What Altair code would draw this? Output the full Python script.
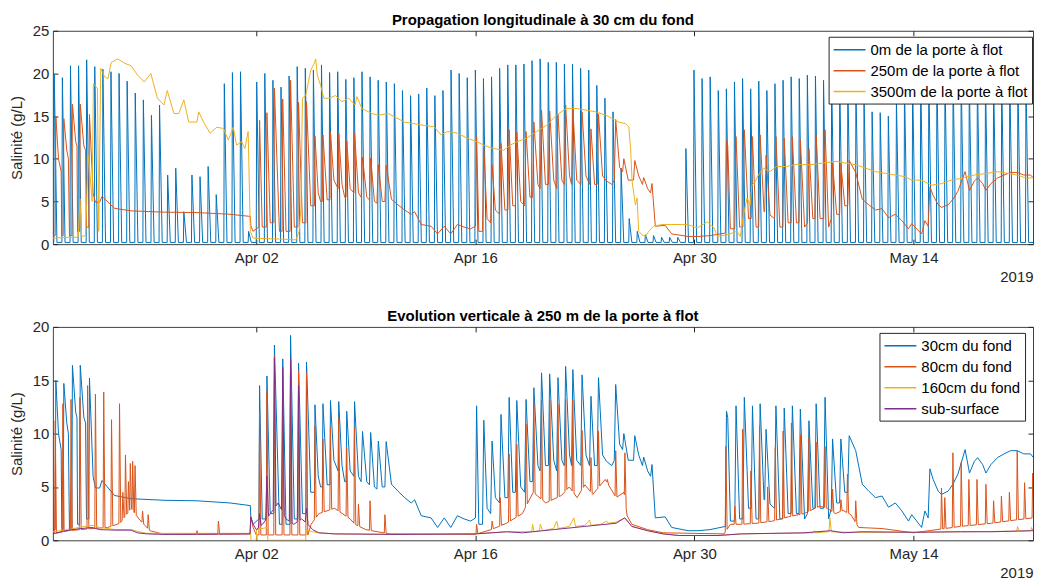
import altair as alt
import numpy as np
import pandas as pd

# ---------------- axes / labels ----------------
DAY_END = 62.64          # x runs in days after 20 Mar 2019 00:00
TICK_DAYS = [13, 27, 41, 55]
TICK_LABELS = ["Apr 02", "Apr 16", "Apr 30", "May 14"]
YEAR_LABEL = "2019"
TOP_TITLE = "Propagation longitudinale à 30 cm du fond"
BOT_TITLE = "Evolution verticale à 250 m de la porte à flot"
Y_TITLE = "Salinité (g/L)"
TOP_NAMES = ["0m de la porte à flot", "250m de la porte à flot", "3500m de la porte à flot"]
BOT_NAMES = ["30cm du fond", "80cm du fond", "160cm du fond", "sub-surface"]
COLORS = ["#0072BD", "#D95319", "#EDB120", "#7E2F8E"]
TOP_Y_TICKS = [0, 5, 10, 15, 20, 25]
BOT_Y_TICKS = [0, 5, 10, 15, 20]

# ---------------- 0 m : one salinity peak per tide ----------------
TIDE_FIRST_DAY = 0.09
TIDE_PERIOD = 0.5175
GATE_LOW = 0.2
GATE_PEAKS = [
    19.9, 19.5, 20.9, 20.9, 21.6, 20.8, 20.5, 20.2, 20.0, 19.1,
    17.7, 16.9, 15.1, 16.3, 8.1, 8.9, 3.8, 8.1, 7.9, 9.1,
    5.8, 18.8, 20.1, 20.2, 1.5, 19.0, 20.0, 19.2, 18.4, 19.7,
    20.8, 20.6, 20.4, 21.0, 20.1, 20.2, 19.3, 19.5, 20.2, 19.6,
    19.2, 19.0, 18.8, 18.0, 17.4, 17.6, 18.3, 17.4, 18.0, 20.4,
    20.0, 19.5, 20.4, 19.4, 19.6, 20.6, 21.0, 21.0, 21.1, 21.5,
    21.7, 21.3, 21.3, 21.1, 21.1, 20.6, 20.4, 18.6, 17.1, 15.5,
    8.9, 3.0, 1.5, 1.1, 1.0, 0.8, 0.8, 0.8, 11.2, 20.4,
    19.4, 19.6, 18.0, 18.2, 19.0, 19.4, 18.2, 19.1, 18.0, 18.8,
    19.2, 19.6, 19.4, 19.8, 19.7, 19.2, 19.5, 19.0, 18.8, 18.5,
    17.5, 15.5, 15.4, 15.0, 17.0, 18.5, 19.0, 19.5, 19.5, 19.8,
    19.5, 19.8, 19.6, 19.5, 19.7, 19.4, 19.6, 19.5, 19.7, 19.2,
    19.2, 19.4,
]

# ---------------- 250 m, 30 cm above bed (both panels) ----------------
S250 = [
    (0.00, 1.0), (0.15, 1.0), (0.19, 15.0), (0.36, 10.0), (0.53, 8.5), (0.57, 1.0), (0.66, 1.0),
    (0.70, 14.7), (0.89, 11.0), (0.99, 10.0), (1.06, 1.0), (1.21, 1.0), (1.25, 16.4), (1.46, 12.0),
    (1.54, 11.5), (1.58, 1.5), (1.71, 1.5), (1.75, 16.4), (1.98, 11.5), (2.09, 11.0), (2.15, 2.0),
    (2.30, 2.0), (2.34, 15.2), (2.57, 6.0), (2.72, 4.9), (2.99, 4.9), (3.14, 5.6), (3.94, 4.2),
    (5.00, 3.9), (7.10, 3.75), (9.21, 3.7), (11.32, 3.5), (12.62, 3.25), (12.65, 2.2), (12.79, 1.5),
    (13.17, 2.0), (13.21, 14.5), (13.38, 2.0), (13.64, 2.0), (13.68, 15.4), (13.89, 2.5), (14.12, 2.5),
    (14.16, 18.3), (14.48, 1.5), (14.65, 1.5), (14.69, 17.0), (14.90, 1.5), (15.16, 1.5), (15.19, 19.2),
    (15.43, 2.0), (15.66, 2.0), (15.70, 16.6), (15.95, 2.5), (16.17, 2.5), (16.21, 16.7), (16.48, 4.5),
    (16.72, 4.5), (16.75, 12.7), (16.96, 6.0), (17.11, 5.0), (17.22, 5.0), (17.26, 12.8), (17.53, 5.2),
    (17.71, 5.2), (17.74, 13.1), (17.96, 7.5), (18.23, 6.5), (18.27, 13.0), (18.48, 7.0), (18.65, 5.5),
    (18.74, 5.5), (18.78, 12.1), (19.00, 6.5), (19.24, 6.0), (19.28, 13.0), (19.53, 6.0), (19.70, 5.5),
    (19.79, 10.2), (20.06, 5.5), (20.23, 5.2), (20.31, 10.1), (20.55, 5.0), (20.71, 4.8), (20.80, 9.3),
    (21.05, 5.0), (21.22, 5.0), (21.30, 9.25), (21.64, 5.25), (22.06, 4.6), (22.48, 4.0), (22.90, 3.5),
    (23.12, 3.8), (23.54, 2.3), (24.17, 2.1), (24.59, 1.2), (25.01, 2.1), (25.43, 1.2), (25.85, 2.3),
    (26.28, 2.0), (26.70, 1.8), (27.01, 2.1), (27.08, 12.6), (27.22, 1.5), (27.46, 1.5), (27.54, 11.25),
    (27.75, 3.0), (27.98, 2.5), (28.07, 9.3), (28.28, 4.0), (28.55, 3.5), (28.64, 11.8), (28.89, 4.0),
    (29.08, 4.0), (29.16, 13.4), (29.39, 4.5), (29.56, 4.5), (29.65, 13.1), (29.90, 5.0), (30.15, 4.5),
    (30.24, 13.2), (30.49, 5.5), (30.66, 5.5), (30.74, 14.3), (31.00, 7.0), (31.14, 6.5), (31.23, 15.7),
    (31.48, 7.0), (31.67, 7.0), (31.75, 15.6), (32.01, 7.5), (32.20, 6.5), (32.28, 15.25), (32.53, 7.5),
    (32.68, 7.0), (32.77, 16.3), (33.02, 8.0), (33.15, 7.0), (33.23, 16.0), (33.48, 7.5), (33.74, 7.0),
    (33.82, 15.5), (34.07, 8.0), (34.30, 7.0), (34.39, 13.5), (34.62, 7.0), (34.79, 7.0), (34.87, 15.25),
    (35.13, 8.0), (35.38, 7.4), (35.72, 7.0), (35.88, 7.5), (35.97, 14.6), (36.22, 9.0), (36.41, 8.5),
    (36.49, 10.0), (36.77, 7.5), (37.11, 7.5), (37.19, 9.8), (37.44, 8.0), (37.68, 7.0), (37.76, 7.8),
    (38.01, 6.5), (38.20, 6.0), (38.29, 7.1), (38.50, 2.1), (39.13, 2.2), (39.55, 1.2), (40.60, 0.9),
    (41.24, 0.9), (42.00, 1.0), (42.98, 1.3), (43.05, 12.1), (43.13, 11.5), (43.30, 1.8), (43.58, 1.8),
    (43.66, 12.6), (43.89, 2.0), (44.10, 2.0), (44.19, 13.4), (44.46, 3.0), (44.63, 3.0), (44.71, 12.6),
    (44.94, 2.0), (45.11, 2.0), (45.20, 12.8), (45.45, 3.8), (45.49, 3.8), (45.58, 10.4), (45.83, 3.4),
    (46.12, 3.0), (46.21, 12.6), (46.46, 2.0), (46.65, 2.0), (46.74, 12.4), (46.99, 2.5), (47.18, 2.5),
    (47.26, 12.6), (47.52, 2.5), (47.68, 2.5), (47.77, 12.3), (48.04, 2.0), (48.23, 2.5), (48.32, 11.2),
    (48.57, 3.0), (48.70, 3.0), (48.78, 12.8), (49.03, 3.0), (49.26, 3.0), (49.35, 13.4), (49.58, 2.0),
    (49.75, 3.0), (49.83, 9.5), (50.09, 3.5), (50.28, 3.5), (50.36, 9.5), (50.61, 4.5), (50.80, 4.5),
    (50.89, 9.8), (51.31, 8.4), (51.73, 5.25), (52.15, 4.6), (52.57, 4.0), (52.99, 4.15), (53.41, 3.1),
    (53.84, 3.5), (54.26, 2.75), (54.68, 1.8), (54.89, 2.4), (55.52, 1.2), (55.73, 2.75), (55.94, 2.1),
    (56.05, 6.7), (56.26, 5.7), (56.58, 4.6), (56.79, 4.3), (57.21, 4.6), (57.52, 5.25), (57.84, 6.2),
    (58.30, 8.5), (58.58, 6.3), (58.89, 7.4), (59.10, 7.75), (59.42, 7.1), (59.63, 6.3), (59.95, 7.1),
    (60.37, 7.75), (60.79, 8.1), (61.21, 8.4), (61.63, 8.4), (62.05, 8.1), (62.48, 8.1), (62.64, 7.8),
]

# ---------------- 3500 m ----------------
S3500 = [
    (0.00, 0.7), (0.78, 0.8), (1.62, 0.8), (1.73, 5.3), (1.84, 0.9), (2.09, 1.0), (2.26, 10.4),
    (2.36, 8.5), (2.51, 5.0), (2.59, 18.8), (2.85, 18.2), (2.93, 1.5), (3.06, 20.6), (3.31, 19.6),
    (3.52, 19.4), (3.73, 21.3), (4.15, 21.7), (4.58, 21.2), (5.00, 20.9), (5.42, 19.8), (5.84, 19.0),
    (6.26, 20.0), (6.68, 17.1), (7.10, 16.3), (7.31, 18.0), (7.74, 15.3), (8.05, 15.3), (8.37, 16.9),
    (8.68, 14.3), (9.21, 14.3), (9.32, 15.5), (9.63, 14.3), (10.05, 13.0), (10.48, 13.7), (10.90, 13.55),
    (11.21, 12.2), (11.53, 13.7), (11.74, 11.6), (12.06, 12.0), (12.27, 11.2), (12.48, 13.2),
    (12.62, 1.5), (12.79, 0.7), (14.48, 0.6), (15.53, 0.5), (15.74, 1.5), (15.85, 4.2), (15.95, 17.1),
    (16.16, 17.4), (16.48, 20.4), (16.69, 21.1), (16.80, 21.7), (16.90, 19.8), (17.11, 18.6),
    (17.32, 17.1), (17.64, 17.1), (18.06, 17.4), (18.48, 16.7), (18.90, 17.1), (19.32, 16.3),
    (19.43, 17.3), (19.75, 15.9), (20.38, 15.3), (20.80, 15.1), (21.43, 15.3), (22.06, 14.7),
    (22.48, 14.3), (23.12, 14.1), (23.75, 13.9), (24.38, 13.75), (24.80, 12.8), (25.22, 13.2),
    (25.86, 13.0), (26.49, 12.4), (27.12, 12.0), (27.54, 11.6), (28.17, 11.2), (28.81, 11.0),
    (29.23, 11.6), (29.65, 12.0), (30.28, 12.4), (30.91, 13.2), (31.54, 13.9), (32.18, 15.1),
    (32.81, 15.9), (33.44, 15.9), (34.07, 15.7), (34.71, 15.5), (35.34, 15.1), (35.76, 14.7),
    (36.18, 14.3), (36.60, 14.1), (36.81, 13.75), (36.92, 11.2), (37.02, 7.3), (37.23, 4.6),
    (37.34, 5.4), (37.44, 1.5), (37.65, 1.1), (37.87, 0.9), (38.08, 1.5), (38.39, 2.1), (38.92, 2.3),
    (39.55, 2.3), (40.18, 2.3), (40.56, 2.3), (41.19, 1.9), (41.83, 2.6), (42.25, 1.9), (42.46, 0.9),
    (43.09, 1.1), (43.72, 1.5), (43.93, 0.9), (44.14, 3.4), (44.36, 5.4), (44.57, 4.6), (44.67, 6.9),
    (44.88, 7.3), (45.09, 8.1), (45.41, 8.9), (45.83, 8.5), (46.25, 9.1), (46.88, 9.1), (47.52, 9.35),
    (48.36, 9.3), (49.20, 9.5), (50.04, 9.7), (50.68, 9.5), (51.31, 9.3), (51.94, 8.9), (52.57, 8.5),
    (53.20, 8.3), (53.84, 8.1), (54.47, 7.9), (54.89, 7.5), (55.52, 7.5), (56.15, 6.9), (56.79, 7.1),
    (57.42, 7.5), (58.05, 7.7), (58.89, 8.1), (59.74, 8.3), (60.37, 8.5), (61.00, 8.3), (61.63, 8.1),
    (62.27, 7.7), (62.64, 7.8),
]

# ---------------- 250 m, 80 cm above bed: spikes over a slow base ----------------
S80_SPIKE_DAY = [
    0.15, 0.64, 1.16, 1.73, 2.22, 2.72, 3.25, 3.75, 4.26, 4.47, 4.64, 4.83, 4.95, 5.10, 5.25,
    5.73, 6.09, 9.21, 10.58, 13.21, 13.68, 14.16, 14.69, 15.19, 15.70, 16.21, 16.75, 17.26, 17.74,
    18.27, 18.78, 19.28, 19.53, 20.27, 21.22, 27.08, 28.07, 28.59, 29.16, 29.65, 30.24, 30.74,
    31.23, 31.76, 32.28, 32.77, 33.23, 33.82, 34.39, 34.87, 35.44, 35.97, 36.56, 43.01, 43.58,
    44.08, 44.61, 45.16, 45.68, 46.17, 46.67, 47.20, 47.79, 48.32, 48.78, 49.35, 49.83, 50.36,
    50.78, 51.31, 56.79, 57.00, 57.52, 58.05, 58.54, 59.06, 59.63, 60.12, 60.62, 61.13, 61.63,
    62.10, 62.62,
]
S80_SPIKE_VAL = [
    11.2, 12.8, 13.2, 13.4, 14.5, 13.7, 13.9, 11.3, 12.8, 4.5, 8.0, 5.5, 7.2, 7.4, 7.0,
    2.75, 2.4, 0.9, 1.8, 12.1, 14.0, 17.3, 13.7, 17.0, 15.9, 15.7, 10.7, 9.5, 10.6,
    11.5, 8.7, 10.6, 3.4, 3.7, 2.4, 1.5, 1.8, 4.0, 8.1, 9.0, 10.9, 12.75,
    13.1, 13.1, 12.75, 13.2, 13.2, 10.3, 7.75, 10.25, 5.7, 8.4, 8.2, 8.8, 3.2,
    10.4, 6.5, 10.7, 5.0, 8.7, 10.25, 11.0, 9.9, 9.6, 9.2, 8.8, 4.8, 3.8,
    6.2, 3.7, 4.9, 4.0, 8.2, 7.3, 5.7, 5.7, 5.25, 3.7, 4.15, 4.5, 8.4,
    5.4, 6.3,
]
S80_BASE = [
    (0.0, 0.6), (1.0, 0.9), (2.5, 1.1), (3.5, 1.2), (4.3, 1.6), (5.0, 3.0), (5.5, 2.0), (6.2, 0.9),
    (7.0, 0.6), (9.0, 0.55), (12.6, 0.6), (12.65, 2.2), (12.8, 1.2), (13.0, 0.5), (16.3, 0.5),
    (16.5, 1.5), (17.0, 2.5), (18.0, 3.0), (19.0, 2.0), (19.3, 1.5), (20.0, 1.0), (21.5, 0.6),
    (27.0, 0.55), (28.0, 1.0), (29.0, 1.6), (30.0, 2.5), (30.7, 4.5), (31.5, 3.5), (32.5, 4.2),
    (33.0, 5.0), (33.5, 4.0), (34.0, 5.2), (34.5, 4.3), (35.3, 5.7), (36.0, 4.0), (36.5, 4.5),
    (36.7, 2.3), (37.0, 1.5), (38.0, 1.0), (39.0, 0.7), (42.9, 0.6), (43.3, 1.5), (44.0, 1.5),
    (45.0, 1.6), (46.0, 1.8), (47.0, 2.2), (48.0, 2.5), (49.0, 3.2), (49.5, 3.0), (50.0, 2.5),
    (50.5, 2.8), (51.0, 2.4), (51.5, 1.2), (53.0, 1.1), (55.0, 0.7), (56.5, 1.0), (58.0, 1.3),
    (60.0, 1.6), (61.5, 1.9), (62.64, 2.1),
]

# ---------------- 250 m, 160 cm above bed ----------------
S160 = [
    (0.0, 0.8), (1.0, 1.0), (2.0, 1.3), (2.5, 1.4), (3.0, 1.2), (4.0, 1.0), (5.0, 1.0), (5.5, 0.8),
    (6.0, 0.65), (12.64, 0.65), (12.66, 0.0), (13.0, 0.0), (13.02, 1.0), (13.70, 1.2), (13.74, 0.0),
    (16.16, 0.0), (16.18, 1.0), (16.6, 0.8), (17.0, 0.7), (18.0, 0.6), (22.0, 0.55), (27.0, 0.6),
    (29.0, 0.8), (30.6, 0.8), (30.66, 1.5), (30.75, 0.8), (31.1, 0.9), (31.15, 1.5), (31.3, 0.9),
    (32.0, 1.1), (32.2, 1.8), (32.3, 1.1), (33.0, 1.3), (33.3, 2.1), (33.4, 1.3), (34.0, 1.4),
    (34.3, 1.9), (34.4, 1.4), (35.0, 1.5), (35.4, 1.8), (35.5, 1.6), (36.0, 1.7), (36.55, 2.1),
    (37.0, 1.3), (38.0, 0.9), (39.0, 0.6), (40.0, 0.45), (42.5, 0.45), (44.0, 0.6), (48.6, 0.7),
    (48.68, 0.9), (48.75, 0.7), (49.6, 0.8), (49.66, 2.1), (49.75, 0.8), (51.0, 0.75), (55.0, 0.75),
    (58.0, 0.8), (61.6, 0.85), (61.65, 1.3), (61.75, 0.85), (62.5, 0.9), (62.55, 1.2), (62.64, 0.9),
]

# ---------------- 250 m, sub-surface ----------------
SUB_SPIKE_DAY = [13.21, 13.68, 14.16, 14.69, 15.19, 15.70, 16.21]
SUB_SPIKE_VAL = [2.5, 6.0, 17.1, 16.2, 17.0, 14.5, 3.0]
SUB_BASE = [
    (0.0, 0.6), (0.8, 0.9), (1.8, 1.1), (2.5, 1.2), (3.0, 1.0), (4.0, 0.95), (5.0, 0.95), (5.4, 0.7),
    (6.0, 0.6), (7.0, 0.55), (12.6, 0.6), (12.65, 2.2), (12.8, 1.5), (13.0, 1.0), (13.4, 1.5),
    (13.9, 2.5), (14.4, 3.5), (14.9, 2.0), (15.4, 1.5), (15.9, 2.0), (16.3, 1.5), (16.6, 1.0),
    (17.0, 0.7), (18.0, 0.6), (22.0, 0.55), (27.0, 0.6), (29.0, 0.8), (30.0, 0.7), (32.0, 1.0),
    (34.0, 1.3), (36.0, 1.6), (36.55, 2.1), (37.0, 1.3), (38.0, 0.9), (39.0, 0.6), (40.0, 0.45),
    (42.5, 0.45), (44.0, 0.6), (46.0, 0.65), (48.0, 0.7), (49.7, 0.9), (50.5, 0.7), (51.7, 0.8),
    (55.0, 0.75), (58.0, 0.8), (60.0, 0.8), (62.64, 0.9),
]


# ---------------- table building ----------------
def frame(points, name):
    pts = sorted(points)
    return pd.DataFrame({"day": [p[0] for p in pts], "val": [p[1] for p in pts], "series": name})


def tidal_points(first, period, peaks, low, rise=0.03, fall=0.17):
    pts = [(0.0, low)]
    for i, p in enumerate(peaks):
        t = first + i * period
        pts += [(t - rise, low), (t, p), (t + fall, low)]
    return pts


def spiky_points(days, vals, base, rise, fall):
    bt = np.array([b[0] for b in base])
    bv = np.array([b[1] for b in base])
    pts = [b for b in base if not any(d - rise <= b[0] <= d + fall for d in days)]
    for d, v in zip(days, vals):
        pts += [(d - rise, float(np.interp(d - rise, bt, bv))), (d, v),
                (d + fall, float(np.interp(d + fall, bt, bv)))]
    return pts


FONT = "Liberation Sans"
INK = "#262626"
PLOT_W = 983
PLOT_H = 214

x_main = alt.X(
    "day:Q",
    scale=alt.Scale(domain=[0, DAY_END], nice=False, zero=False),
    axis=alt.Axis(
        values=TICK_DAYS,
        labelExpr=" : ".join(f"datum.value == {d} ? '{l}'" for d, l in zip(TICK_DAYS, TICK_LABELS)) + " : ''",
        title=YEAR_LABEL, titleAnchor="end", titleAlign="right", titleX=PLOT_W, titlePadding=4,
        offset=-5, tickSize=5, labelPadding=6, domain=False, grid=False,
        labelFlush=False,
    ),
)


def y_main(ymax, ticks):
    return alt.Y(
        "val:Q",
        scale=alt.Scale(domain=[0, ymax], nice=False, zero=True),
        axis=alt.Axis(values=ticks, title=Y_TITLE, offset=-5, tickSize=5, labelPadding=4,
                      titlePadding=8, domain=False, grid=False),
    )


def panel(frames, names, ymax, yticks, title, legend_x, legend_y):
    color = alt.Color(
        "series:N",
        scale=alt.Scale(domain=names, range=COLORS[: len(names)]),
        legend=alt.Legend(
            title=None, orient="none", legendX=legend_x, legendY=legend_y,
            fillColor="white", strokeColor=INK, padding=4, rowPadding=4,
            symbolType="M-1,0L3,0", symbolSize=256, symbolStrokeWidth=1.5,
            labelFontSize=15, labelFont=FONT, labelColor="black", labelOffset=20,
        ),
    )
    y = y_main(ymax, yticks)
    lines = [
        alt.Chart(df).mark_line(strokeWidth=1, clip=True).encode(x=x_main, y=y, color=color)
        for df in frames
    ]
    inner = alt.layer(*lines)
    ticks = alt.Chart(frames[0]).mark_line(strokeOpacity=0).encode(
        x=alt.X("day:Q", axis=alt.Axis(orient="top", values=TICK_DAYS, labels=False, title=None,
                                        offset=-5, tickSize=5, domain=False, grid=False,
                                        minExtent=0, maxExtent=0)),
        y=alt.Y("val:Q", axis=alt.Axis(orient="right", values=yticks, labels=False, title=None,
                                        offset=-5, tickSize=5, domain=False, grid=False,
                                        minExtent=0, maxExtent=0)),
    )
    return (
        alt.layer(inner, ticks)
        .resolve_axis(x="independent", y="independent")
        .properties(width=PLOT_W, height=PLOT_H,
                    title=alt.Title(title, fontSize=15, font=FONT, fontWeight="bold",
                                    color="black", anchor="middle", offset=-4))
    )


gate = frame(tidal_points(TIDE_FIRST_DAY, TIDE_PERIOD, GATE_PEAKS, GATE_LOW), TOP_NAMES[0])
m250_top = frame(S250, TOP_NAMES[1])
m3500 = frame(S3500, TOP_NAMES[2])

m250_bot = frame(S250, BOT_NAMES[0])
m80 = frame(spiky_points(S80_SPIKE_DAY, S80_SPIKE_VAL, S80_BASE, 0.04, 0.08), BOT_NAMES[1])
m160 = frame(S160, BOT_NAMES[2])
msub = frame(spiky_points(SUB_SPIKE_DAY, SUB_SPIKE_VAL, SUB_BASE, 0.08, 0.10), BOT_NAMES[3])

top = panel([gate, m250_top, m3500], TOP_NAMES, 25, TOP_Y_TICKS, TOP_TITLE, 778, 6)
bottom = panel([m250_bot, m80, m160, msub], BOT_NAMES, 20, BOT_Y_TICKS, BOT_TITLE, 829, 6)

chart = (
    alt.vconcat(top, bottom, spacing=23)
    .resolve_scale(color="independent")
    .resolve_legend(color="independent")
    .properties(padding={"left": 0, "top": 3, "right": 0, "bottom": 0})
    .configure_view(stroke="#404040", strokeWidth=1)
    .configure_axis(labelFont=FONT, labelFontSize=15, labelColor=INK, tickColor=INK,
                    titleFont=FONT, titleFontSize=15, titleFontWeight="normal", titleColor=INK)
)

chart.save("out.html", embed_options={"renderer": "svg", "actions": False})
